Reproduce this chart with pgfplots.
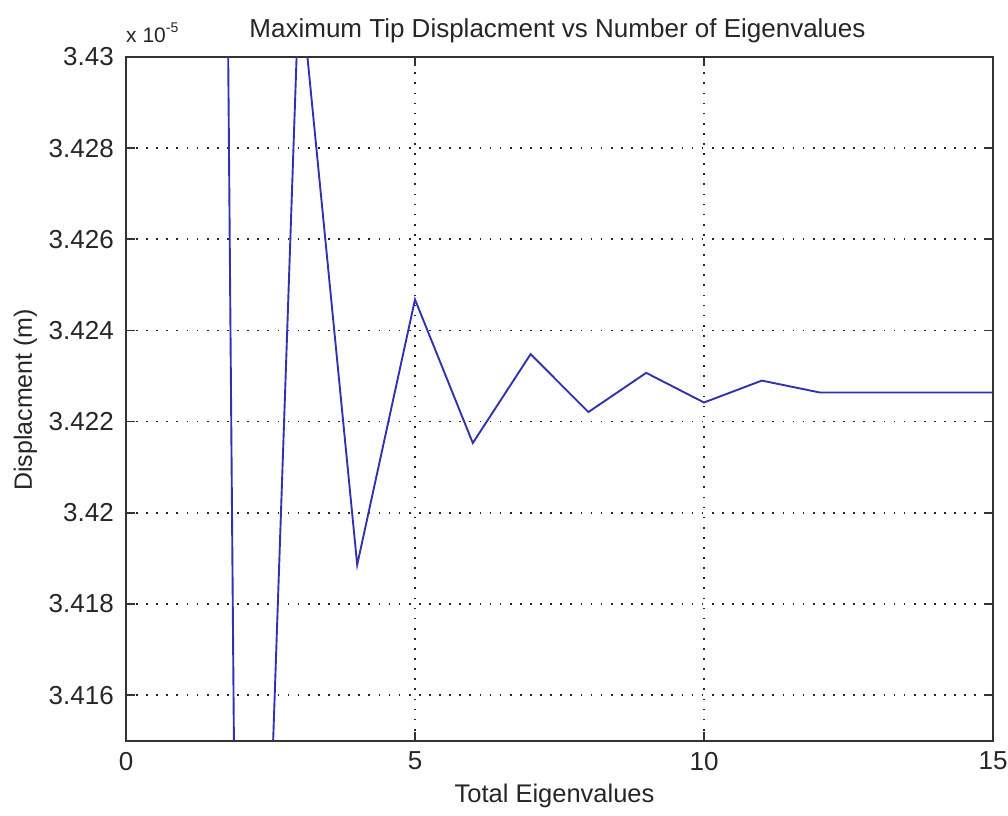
\documentclass[border=0pt]{standalone}
\usepackage{fontspec}
\setmainfont{Liberation Sans}
\usepackage{pgfplots}
\pgfplotsset{compat=1.18}

\definecolor{mline}{RGB}{50,50,175}

\begin{document}
\fontsize{24}{28}\selectfont
\begin{tikzpicture}
\begin{axis}[
  name=ax,
  scale only axis,
  width=867pt, height=683.7pt,
  xmin=0, xmax=15, ymin=3.415, ymax=3.43,
  xtick={0,5,10,15},
  xticklabels={0,5,10,15},
  ytick={3.416,3.418,3.42,3.422,3.424,3.426,3.428,3.43},
  yticklabels={3.416,3.418,3.42,3.422,3.424,3.426,3.428,3.43},
  grid=major,
  major grid style={black!85, line width=1.7pt, dash pattern=on 1.7pt off 8.4pt},
  axis line style={black!80, line width=1.7pt},
  tick style={black!80, line width=1.7pt},
  major tick length=9pt,
  tick align=inside,
  every tick label/.append style={font=\fontsize{26}{30}\selectfont, text=black!85, inner sep=0pt},
  xticklabel style={yshift=-11pt},
  yticklabel style={xshift=-12pt},
  clip=true,
]
% displacement in units of 1e-5 m
\addplot[mline, line width=1.9pt] coordinates {
  (1,3.5467)(2,3.3948)(3,3.4318)(4,3.41886)(5,3.42468)(6,3.42153)
  (7,3.42348)(8,3.42221)(9,3.42307)(10,3.42242)(11,3.42290)(12,3.42264)
  (13,3.42264)(14,3.42264)(15,3.42264)
};
\end{axis}
\node[anchor=base, font=\fontsize{26}{30}\selectfont, text=black!85] at ([xshift=-2pt,yshift=19pt]ax.north) {Maximum Tip Displacment vs Number of Eigenvalues};
\node[anchor=base, font=\fontsize{25.5}{30}\selectfont, text=black!85] at ([xshift=-5pt,yshift=-62pt]ax.south) {Total Eigenvalues};
\node[anchor=base, rotate=90, font=\fontsize{25}{30}\selectfont, text=black!85] at ([xshift=-94pt,yshift=-1pt]ax.west) {Displacment (m)};
\node[anchor=base west, inner sep=0pt, font=\fontsize{21}{24}\selectfont, text=black!85] at ([yshift=14pt]ax.north west) {x 10\raisebox{10pt}{\fontsize{14}{16}\selectfont -5}};
\path ([xshift=-126pt,yshift=-72.3pt]ax.south west) rectangle ([xshift=15pt,yshift=57pt]ax.north east);
\end{tikzpicture}
\end{document}
